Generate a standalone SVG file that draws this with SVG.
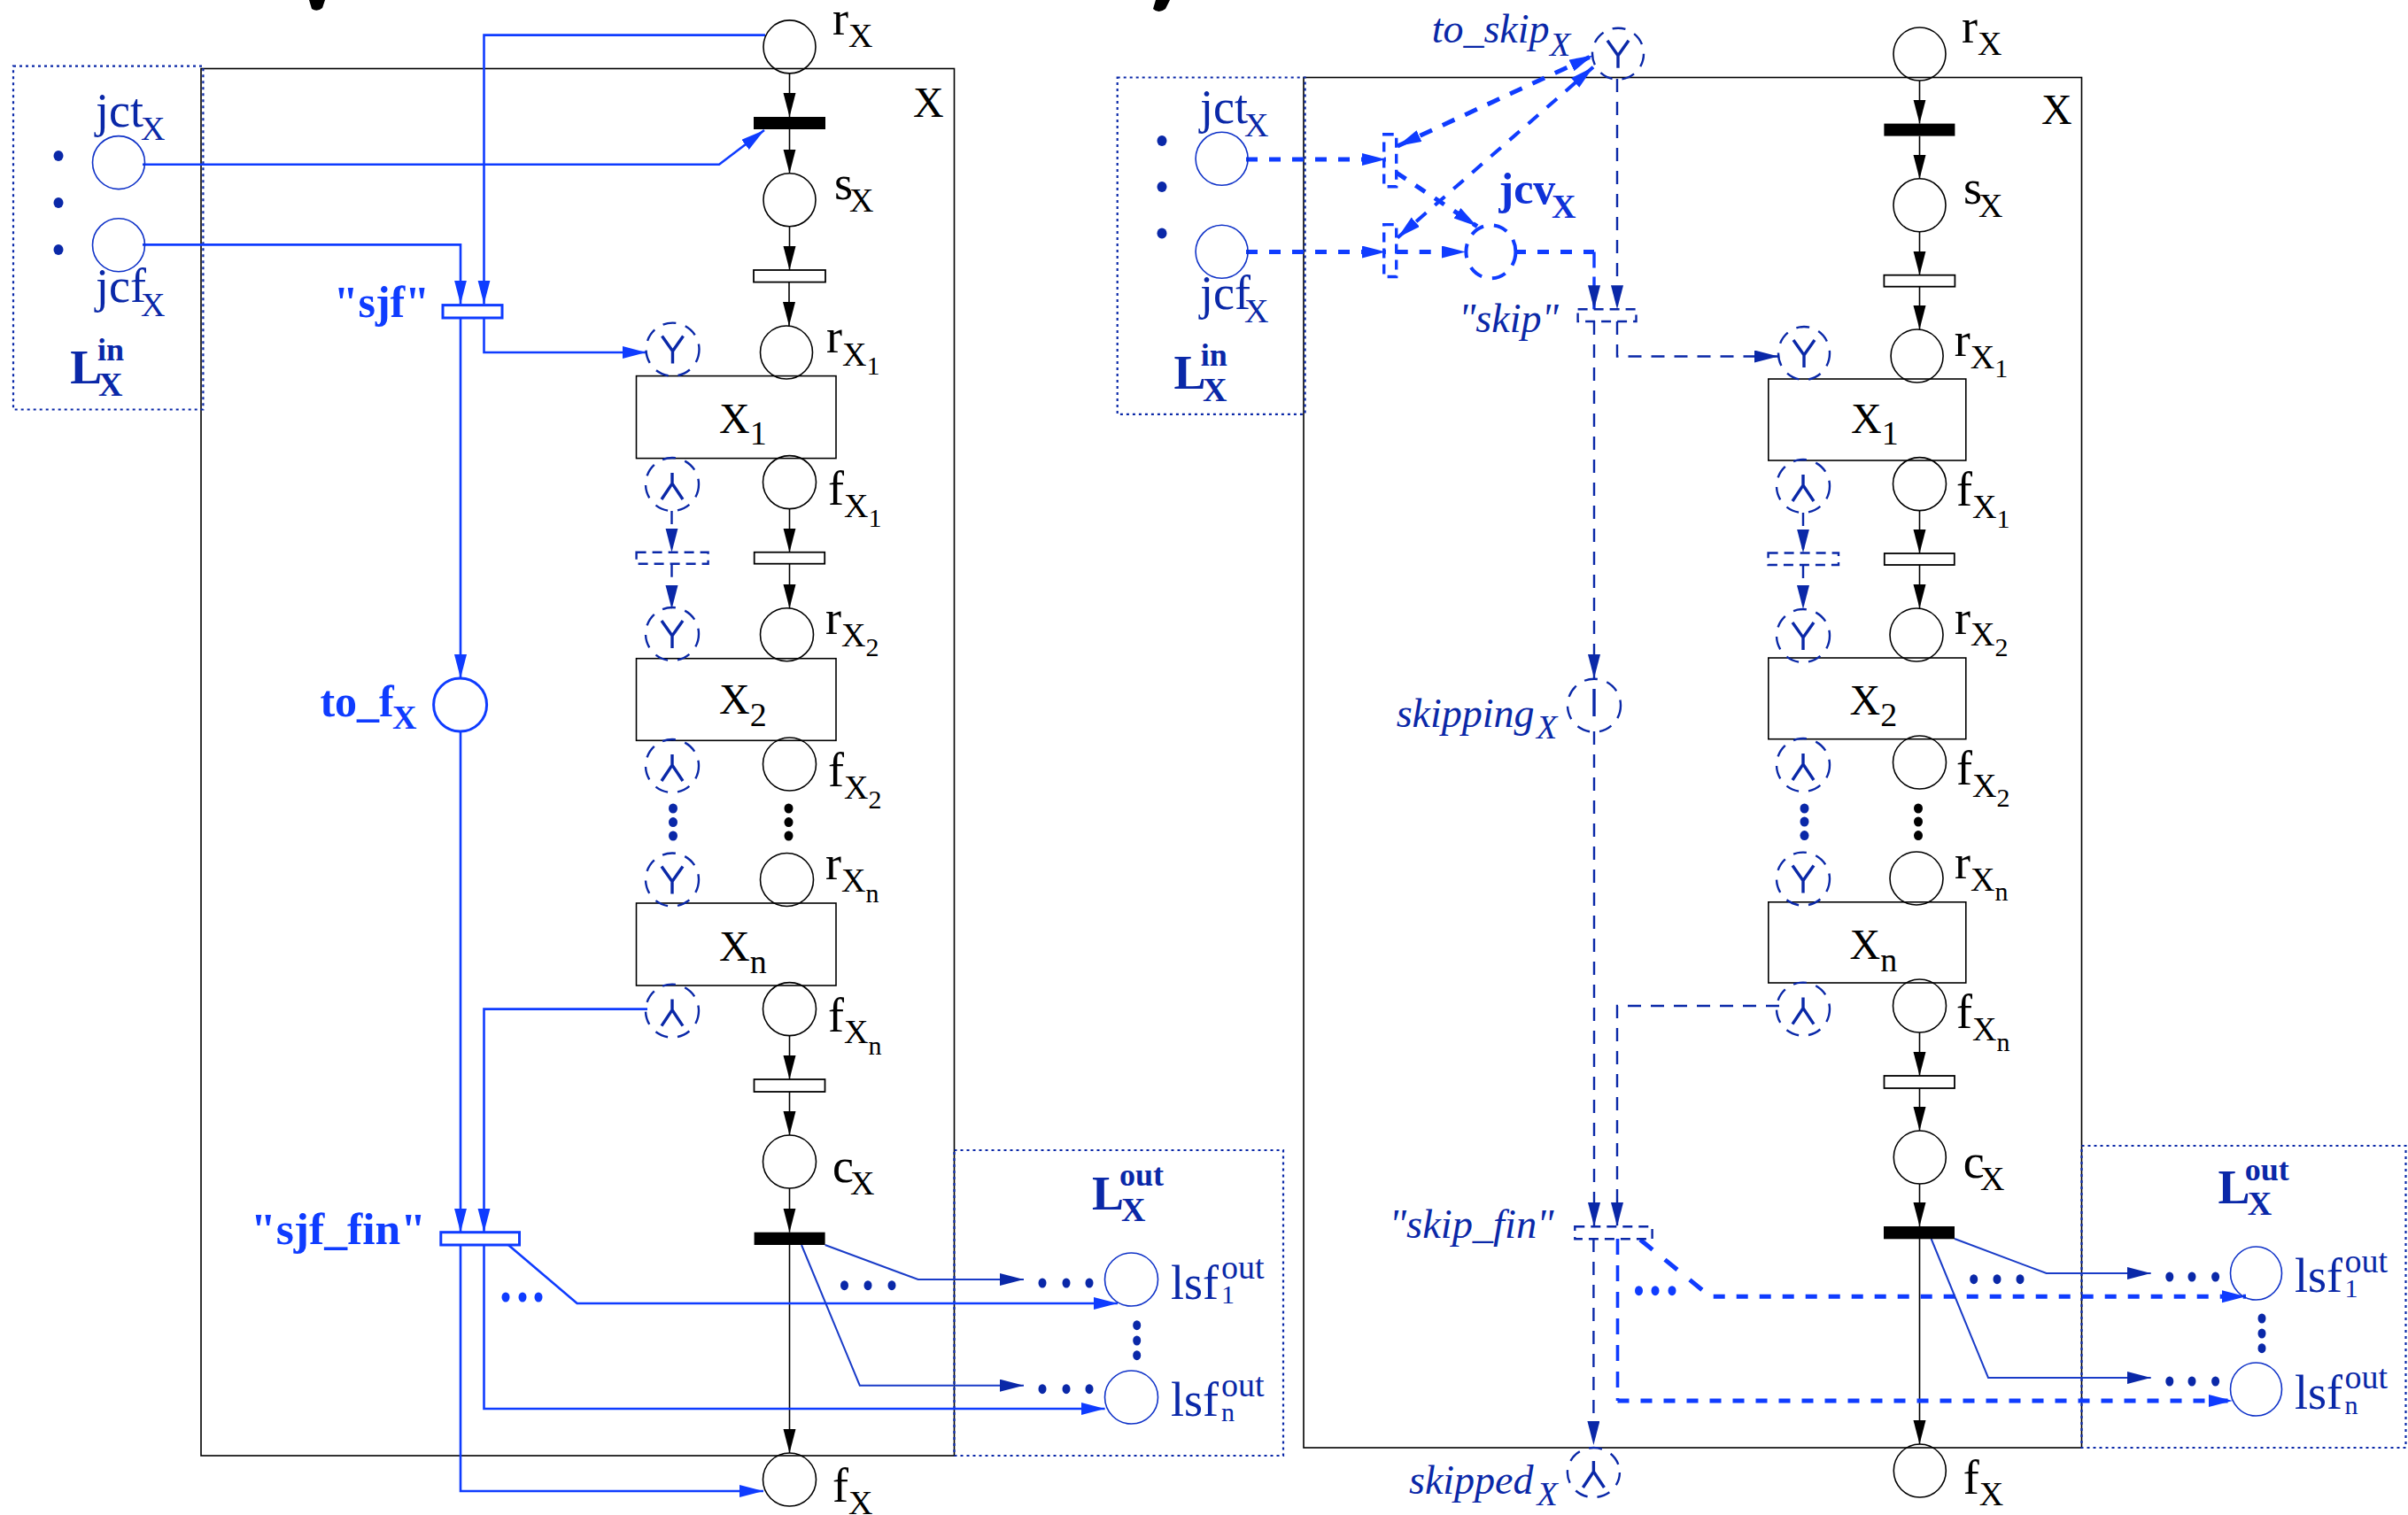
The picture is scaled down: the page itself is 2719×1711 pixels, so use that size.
<svg xmlns="http://www.w3.org/2000/svg" width="2719" height="1711" viewBox="0 0 2719 1711">
<style>
text{font-family:"Liberation Serif","Times New Roman",serif}
.m{font-size:54px;fill:#000}
.x{font-size:48px}
.s{font-size:38px}
.ss{font-size:30px}
.j{font-size:54px;fill:#0a28a8}
.b{font-size:50px;font-weight:bold;fill:#0f3cff}
.bd{font-size:54px;font-weight:bold;fill:#0a28a8}
.sb{font-size:38px;font-weight:bold}
.i{font-size:46px;font-style:italic;fill:#0a28a8}
.bl{fill:none;stroke:#000;stroke-width:1.6}
.pl{fill:none;stroke:#0f32c8;stroke-width:1.6}
.dp{fill:none;stroke:#0a28a8;stroke-width:2.4;stroke-dasharray:15 11}
.wb{fill:#fff;stroke:#000;stroke-width:1.8}
.bb{fill:#000;stroke:none}
.lb{fill:#fff;stroke:#0f3cff;stroke-width:3}
.dt{fill:none;stroke:#0a28a8;stroke-width:2.4;stroke-dasharray:11 7}
.dt2{fill:none;stroke:#0f3cff;stroke-width:3.4;stroke-dasharray:11 7}
.box{fill:none;stroke:#000;stroke-width:1.6}
.lo{fill:none;stroke:#0a28a8;stroke-width:2.2;stroke-dasharray:3 4}
.k{fill:none;stroke:#000;stroke-width:1.6;marker-end:url(#ak)}
.l{fill:none;stroke:#0f3cff;stroke-width:2.6;marker-end:url(#ab)}
.lt{fill:none;stroke:#1a3cc8;stroke-width:2;marker-end:url(#ad)}
.d{fill:none;stroke:#0a28a8;stroke-width:2.4;stroke-dasharray:15 11;marker-end:url(#ad)}
.th{fill:none;stroke:#0f3cff;stroke-width:5;stroke-dasharray:13 13;marker-end:url(#ab)}
.md{fill:none;stroke:#0f3cff;stroke-width:3.6;stroke-dasharray:18 12}
.sym{fill:none;stroke:#0a28a8;stroke-width:3.4}
.do{fill:#0a28a8}
.db{fill:#0f3cff}
</style>
<defs>
<marker id="ak" markerUnits="userSpaceOnUse" markerWidth="28" markerHeight="16" refX="27" refY="7" orient="auto-start-reverse"><path d="M0 0L27 7L0 14Z" fill="#000"/></marker>
<marker id="ab" markerUnits="userSpaceOnUse" markerWidth="28" markerHeight="16" refX="27" refY="7" orient="auto-start-reverse"><path d="M0 0L27 7L0 14Z" fill="#0f3cff"/></marker>
<marker id="ad" markerUnits="userSpaceOnUse" markerWidth="28" markerHeight="16" refX="27" refY="7" orient="auto-start-reverse"><path d="M0 0L27 7L0 14Z" fill="#0a28a8"/></marker>
<path id="yy" class="sym" d="M-12 -15L0 2L12 -15M0 2V16"/>
<path id="ll" class="sym" d="M0 -13V-1M-12 17L0 -1L12 17"/>
</defs>

<path d="M349 0H367L364 9Q358 14 352 10Z" fill="#000"/>
<path d="M1305 0H1321L1316 10Q1308 16 1302 10Z" fill="#000"/>

<g id="left-frames">
<rect class="box" x="227" y="77.5" width="850.5" height="1566.5"/>
<rect class="lo" x="15" y="74.6" width="214.4" height="387.9"/>
<rect class="lo" x="1077.5" y="1299" width="371.5" height="345"/>
</g>
<g id="right-frames">
<rect class="box" x="1472" y="87.5" width="878.5" height="1547.5"/>
<rect class="lo" x="1261.7" y="87.5" width="211.9" height="380.4"/>
<rect class="lo" x="2350.5" y="1294" width="366" height="341"/>
</g>

<g id="connectors">
<path class="k" d="M891.5 83V132"/>
<path class="k" d="M891.5 146V195.7"/>
<path class="k" d="M891.5 255.7V305"/>
<path class="k" d="M891 318.6V368"/>
<path class="k" d="M891.5 574V623.7"/>
<path class="k" d="M891.5 636.7V687"/>
<path class="k" d="M891.5 1169.6V1219"/>
<path class="k" d="M891.5 1233V1282"/>
<path class="k" d="M891.5 1342V1391.7"/>
<path class="k" d="M891.5 1406V1641"/>
<path class="k" d="M2167.5 91V139.6"/>
<path class="k" d="M2167.5 153.6V202"/>
<path class="k" d="M2167.5 262V310.7"/>
<path class="k" d="M2167.5 323.6V372"/>
<path class="k" d="M2167.5 576V625"/>
<path class="k" d="M2167.5 638V687"/>
<path class="k" d="M2167.5 1166V1215"/>
<path class="k" d="M2167.5 1229V1277"/>
<path class="k" d="M2167.5 1337V1385"/>
<path class="k" d="M2167.5 1399V1631"/>

<path class="l" d="M161 185.7H812L863 147"/>
<path class="l" d="M161 276.4H520V343.5"/>
<path class="l" d="M864 39.6H546.5V343.5"/>
<path class="l" d="M546.5 359V398H729.6"/>
<path class="l" d="M520 359V766"/>
<path class="l" d="M520 826V1391.7"/>
<path class="l" d="M731 1139.6H546.5V1391.7"/>
<path class="l" d="M546.5 1406V1591H1247.6"/>
<path class="l" d="M574 1406L651.6 1472H1262"/>
<path class="l" d="M520 1406V1684H862"/>
<path class="lt" d="M931.6 1406L1036.7 1445H1156"/>
<path class="lt" d="M905 1406L970.8 1564.7H1156"/>
<path class="d" d="M758.5 577V623.7"/>
<path class="d" d="M758.5 636.7V688"/>

<path class="th" d="M1407 180H1564.8"/>
<path class="th" d="M1407 284.5H1564.8"/>
<path class="th" d="M1576.7 284.5H1655"/>
<path class="th" d="M1576.7 195L1668 255.7"/>
<path d="M1578 165L1799 62.5" fill="none" stroke="#0f3cff" stroke-width="5" stroke-dasharray="15 13" marker-start="url(#ab)" marker-end="url(#ab)"/>
<path d="M1578 268.6L1799 75.7" fill="none" stroke="#0f3cff" stroke-width="4" stroke-dasharray="15 13" marker-start="url(#ab)" marker-end="url(#ab)"/>
<path d="M1710 284.5H1800" fill="none" stroke="#0f3cff" stroke-width="5" stroke-dasharray="13 13"/>
<path d="M1800 284.5V349.3" fill="none" stroke="#0f3cff" stroke-width="3.4" stroke-dasharray="18 10" marker-end="url(#ad)"/>
<path class="d" d="M1826 89V349.3"/>
<path class="d" d="M1826 363V402.5H2008"/>
<path class="d" d="M1800 363V766"/>
<path class="d" d="M1800 826V1385"/>
<path class="d" d="M2009 1136H1826V1385"/>
<path class="d" d="M2036 579V624.5"/>
<path class="d" d="M2036 638V688"/>
<path class="d" d="M1799.4 1399V1632"/>
<path class="md" d="M1826.5 1399V1582"/>
<path class="th" d="M1826.5 1582H2521"/>
<path d="M1852 1400L1923.5 1458" fill="none" stroke="#0f3cff" stroke-width="5" stroke-dasharray="18 18"/>
<path class="th" d="M1934.7 1464.3H2536"/>
<path class="lt" d="M2207 1399L2310.7 1438H2428.7"/>
<path class="lt" d="M2180.6 1399L2245 1556H2428.7"/>
</g>

<g id="rX"><ellipse class="bl" cx="891.5" cy="52.9" rx="29.5" ry="30"/><text class="m" x="940" y="38.6">r<tspan class="s" y="53">X</tspan></text></g>
<g id="tX-black"><rect class="bb" x="851" y="132" width="81" height="14"/></g>
<g id="labelX"><text class="m x" x="1031" y="132">X</text></g>
<g id="sX"><ellipse class="bl" cx="891.5" cy="225.7" rx="29.5" ry="30"/><text class="m" x="942" y="225">s<tspan class="s" x="959" y="238.6">X</tspan></text></g>
<g id="tX-1"><rect class="wb" x="851" y="305" width="81" height="13.6"/></g>
<g id="rX1"><ellipse class="bl" cx="888" cy="398" rx="29.5" ry="30"/><text class="m" x="933" y="397.5">r<tspan class="s" y="412.5">X</tspan><tspan class="ss" y="423">1</tspan></text></g>
<g id="X1"><rect class="box" x="718.5" y="424.6" width="225.5" height="93"/><text class="m x" x="812" y="488.6">X<tspan class="s" y="501.8">1</tspan></text></g>
<g id="fX1"><ellipse class="bl" cx="891.5" cy="544.6" rx="30" ry="30"/><text class="m" x="935" y="569.6">f<tspan class="s" y="584">X</tspan><tspan class="ss" y="595">1</tspan></text></g>
<g id="tX-2"><rect class="wb" x="851.7" y="623.7" width="79.5" height="13"/></g>
<g id="rX2"><ellipse class="bl" cx="888.5" cy="716.7" rx="30" ry="30"/><text class="m" x="932" y="716">r<tspan class="s" y="730">X</tspan><tspan class="ss" y="741">2</tspan></text></g>
<g id="X2"><rect class="box" x="718.5" y="743.7" width="225.5" height="92.6"/><text class="m x" x="812" y="806">X<tspan class="s" y="820">2</tspan></text></g>
<g id="fX2"><ellipse class="bl" cx="891.5" cy="863" rx="30" ry="30"/><text class="m" x="935" y="887.8">f<tspan class="s" y="902">X</tspan><tspan class="ss" y="913">2</tspan></text></g>
<g id="rXn"><ellipse class="bl" cx="888.5" cy="993.5" rx="30" ry="30"/><text class="m" x="932" y="992.6">r<tspan class="s" y="1007">X</tspan><tspan class="ss" y="1018.8">n</tspan></text></g>
<g id="Xn"><rect class="box" x="718.5" y="1020" width="225.5" height="93"/><text class="m x" x="812" y="1084.5">X<tspan class="s" y="1099">n</tspan></text></g>
<g id="fXn"><ellipse class="bl" cx="891.5" cy="1139.6" rx="30" ry="30"/><text class="m" x="935" y="1165">f<tspan class="s" y="1178">X</tspan><tspan class="ss" y="1190.6">n</tspan></text></g>
<g id="tX-3"><rect class="wb" x="851.5" y="1219" width="80" height="14"/></g>
<g id="cX"><ellipse class="bl" cx="891.5" cy="1312" rx="30" ry="30"/><text class="m" x="940" y="1335">c<tspan class="s" x="960" y="1349">X</tspan></text></g>
<g id="tX-fin"><rect class="bb" x="851.6" y="1391.7" width="80" height="14.3"/></g>
<g id="fX"><ellipse class="bl" cx="891.5" cy="1671" rx="30" ry="30"/><text class="m" x="940" y="1695.7">f<tspan class="s" y="1710">X</tspan></text></g>
<g id="dots-black-l"><ellipse class="bb" cx="890.5" cy="913" rx="5" ry="5.5"/><ellipse class="bb" cx="890.5" cy="928.6" rx="5" ry="5.5"/><ellipse class="bb" cx="890.5" cy="944" rx="5" ry="5.5"/></g>

<g id="Y1l"><ellipse class="dp" cx="759.5" cy="394.6" rx="30" ry="30"/><use href="#yy" x="759.5" y="394.6"/></g>
<g id="L1l"><ellipse class="dp" cx="759" cy="547" rx="30" ry="30"/><use href="#ll" x="759" y="547"/></g>
<g id="td-l"><rect class="dt" x="718.6" y="623.7" width="81" height="13"/></g>
<g id="Y2l"><ellipse class="dp" cx="759" cy="716" rx="30" ry="30"/><use href="#yy" x="759" y="716"/></g>
<g id="L2l"><ellipse class="dp" cx="759" cy="865" rx="30" ry="30"/><use href="#ll" x="759" y="865"/></g>
<g id="Ynl"><ellipse class="dp" cx="759" cy="993.5" rx="30" ry="30"/><use href="#yy" x="759" y="993.5"/></g>
<g id="Lnl"><ellipse class="dp" cx="759" cy="1141.6" rx="30" ry="30"/><use href="#ll" x="759" y="1141.6"/></g>
<g id="dots-blue-l"><ellipse class="do" cx="760" cy="913" rx="5" ry="5.5"/><ellipse class="do" cx="760" cy="928.6" rx="5" ry="5.5"/><ellipse class="do" cx="760" cy="944" rx="5" ry="5.5"/></g>

<g id="jct-l"><ellipse class="pl" cx="134" cy="183.6" rx="29.5" ry="30"/><text class="j" x="108" y="143">jct<tspan class="s" x="159" y="158">X</tspan></text></g>
<g id="jcf-l"><ellipse class="pl" cx="134" cy="276.8" rx="29.5" ry="30"/><text class="j" x="108" y="341">jcf<tspan class="s" x="159" y="357">X</tspan></text></g>
<g id="dots-lin-l"><ellipse class="do" cx="66" cy="176" rx="5.5" ry="6"/><ellipse class="do" cx="66" cy="229" rx="5.5" ry="6"/><ellipse class="do" cx="66" cy="282" rx="5.5" ry="6"/></g>
<g id="Lin-l"><text class="bd" x="79.3" y="433">L</text><text class="bd" x="110" y="407" style="font-size:36px">in</text><text class="bd" x="111" y="447" style="font-size:38px">X</text></g>

<g id="sjf"><rect class="lb" x="500" y="344.6" width="67" height="14.4"/><text class="b" x="376.7" y="358">"sjf"</text></g>
<g id="to_f"><ellipse class="lb" style="fill:none" cx="519.6" cy="796" rx="30" ry="30"/><text class="b" x="361.4" y="809">to_f<tspan class="sb" x="443" y="823">X</tspan></text></g>
<g id="sjf_fin"><rect class="lb" x="497.8" y="1391.7" width="88.7" height="14.3"/><text class="b" x="283" y="1405" textLength="198" lengthAdjust="spacingAndGlyphs">"sjf_fin"</text></g>
<g id="dots-l1"><ellipse class="db" cx="571" cy="1465" rx="4.5" ry="5.5"/><ellipse class="db" cx="590" cy="1465" rx="4.5" ry="5.5"/><ellipse class="db" cx="608" cy="1465" rx="4.5" ry="5.5"/></g>
<g id="dots-l2"><ellipse class="do" cx="953.5" cy="1451.7" rx="4.5" ry="5.5"/><ellipse class="do" cx="980" cy="1451.7" rx="4.5" ry="5.5"/><ellipse class="do" cx="1007" cy="1451.7" rx="4.5" ry="5.5"/><ellipse class="do" cx="1177" cy="1449" rx="4.5" ry="5.5"/><ellipse class="do" cx="1204" cy="1449" rx="4.5" ry="5.5"/><ellipse class="do" cx="1230" cy="1449" rx="4.5" ry="5.5"/><ellipse class="do" cx="1177" cy="1568.7" rx="4.5" ry="5.5"/><ellipse class="do" cx="1204" cy="1568.7" rx="4.5" ry="5.5"/><ellipse class="do" cx="1230" cy="1568.7" rx="4.5" ry="5.5"/><ellipse class="do" cx="1283.7" cy="1496.7" rx="4.5" ry="5.5"/><ellipse class="do" cx="1283.7" cy="1514" rx="4.5" ry="5.5"/><ellipse class="do" cx="1283.7" cy="1530.7" rx="4.5" ry="5.5"/></g>
<g id="lsf1-l"><ellipse class="pl" cx="1277.5" cy="1445" rx="30" ry="30"/><text class="j" x="1322" y="1466.7">lsf<tspan class="s" x="1379" y="1444">out</tspan><tspan class="ss" x="1379" y="1472">1</tspan></text></g>
<g id="lsfn-l"><ellipse class="pl" cx="1277.5" cy="1578" rx="30" ry="30"/><text class="j" x="1322" y="1599">lsf<tspan class="s" x="1379" y="1576.7">out</tspan><tspan class="ss" x="1379" y="1605">n</tspan></text></g>
<g id="Lout-l"><text class="bd" x="1233" y="1365.7">L</text><text class="bd" x="1264" y="1339" style="font-size:36px">out</text><text class="bd" x="1266" y="1379" style="font-size:38px">X</text></g>

<g id="rXr"><ellipse class="bl" cx="2167.5" cy="61" rx="29.5" ry="30"/><text class="m" x="2215" y="47.5">r<tspan class="s" y="62">X</tspan></text></g>
<g id="tXr-black"><rect class="bb" x="2127.4" y="139.6" width="80" height="14"/></g>
<g id="labelXr"><text class="m x" x="2305" y="140">X</text></g>
<g id="sXr"><ellipse class="bl" cx="2167.5" cy="231.8" rx="29.5" ry="30"/><text class="m" x="2217" y="230">s<tspan class="s" x="2234" y="244.6">X</tspan></text></g>
<g id="tXr-1"><rect class="wb" x="2127.4" y="310.7" width="80" height="13"/></g>
<g id="rX1r"><ellipse class="bl" cx="2164.6" cy="402" rx="29.5" ry="30"/><text class="m" x="2206.7" y="401.8">r<tspan class="s" y="416">X</tspan><tspan class="ss" y="426">1</tspan></text></g>
<g id="X1r"><rect class="box" x="1996.8" y="428" width="223" height="92"/><text class="m x" x="2090" y="488.6">X<tspan class="s" y="501.8">1</tspan></text></g>
<g id="fX1r"><ellipse class="bl" cx="2167.5" cy="546.6" rx="30" ry="30"/><text class="m" x="2209" y="571">f<tspan class="s" y="585">X</tspan><tspan class="ss" y="596">1</tspan></text></g>
<g id="tXr-2"><rect class="wb" x="2127.8" y="625" width="79" height="13"/></g>
<g id="rX2r"><ellipse class="bl" cx="2164" cy="717" rx="30" ry="30"/><text class="m" x="2207" y="716">r<tspan class="s" y="729.4">X</tspan><tspan class="ss" y="741">2</tspan></text></g>
<g id="X2r"><rect class="box" x="1996.8" y="743" width="223" height="91.7"/><text class="m x" x="2088.5" y="807">X<tspan class="s" y="820">2</tspan></text></g>
<g id="fX2r"><ellipse class="bl" cx="2167.5" cy="861" rx="30" ry="30"/><text class="m" x="2209" y="885.7">f<tspan class="s" y="900">X</tspan><tspan class="ss" y="911">2</tspan></text></g>
<g id="rXnr"><ellipse class="bl" cx="2164" cy="992" rx="30" ry="30"/><text class="m" x="2207" y="992">r<tspan class="s" y="1005.7">X</tspan><tspan class="ss" y="1017">n</tspan></text></g>
<g id="Xnr"><rect class="box" x="1996.8" y="1018.8" width="223" height="91.2"/><text class="m x" x="2088.5" y="1083">X<tspan class="s" y="1096.7">n</tspan></text></g>
<g id="fXnr"><ellipse class="bl" cx="2167.5" cy="1136" rx="30" ry="30"/><text class="m" x="2209" y="1160.8">f<tspan class="s" y="1175">X</tspan><tspan class="ss" y="1186.5">n</tspan></text></g>
<g id="tXr-3"><rect class="wb" x="2127.5" y="1215" width="79.5" height="14"/></g>
<g id="cXr"><ellipse class="bl" cx="2167.8" cy="1307" rx="29.5" ry="30"/><text class="m" x="2216.7" y="1330">c<tspan class="s" x="2236" y="1344">X</tspan></text></g>
<g id="tXr-fin"><rect class="bb" x="2127" y="1385" width="80" height="14.3"/></g>
<g id="fXr"><ellipse class="bl" cx="2167.8" cy="1661" rx="29.5" ry="30"/><text class="m" x="2216.7" y="1686.7">f<tspan class="s" y="1700">X</tspan></text></g>
<g id="dots-black-r"><ellipse class="bb" cx="2166" cy="913" rx="5" ry="5.5"/><ellipse class="bb" cx="2166" cy="928" rx="5" ry="5.5"/><ellipse class="bb" cx="2166" cy="943.6" rx="5" ry="5.5"/></g>

<g id="Y1r"><ellipse class="dp" cx="2037" cy="399" rx="29" ry="30"/><use href="#yy" x="2037" y="399"/></g>
<g id="L1r"><ellipse class="dp" cx="2036" cy="549" rx="30" ry="30"/><use href="#ll" x="2036" y="549"/></g>
<g id="td-r"><rect class="dt" x="1996.6" y="624.5" width="79.4" height="13.5"/></g>
<g id="Y2r"><ellipse class="dp" cx="2036" cy="718" rx="30" ry="30"/><use href="#yy" x="2036" y="718"/></g>
<g id="L2r"><ellipse class="dp" cx="2036" cy="864" rx="30" ry="30"/><use href="#ll" x="2036" y="864"/></g>
<g id="Ynr"><ellipse class="dp" cx="2036" cy="992.6" rx="30" ry="30"/><use href="#yy" x="2036" y="992.6"/></g>
<g id="Lnr"><ellipse class="dp" cx="2036" cy="1139.6" rx="30" ry="30"/><use href="#ll" x="2036" y="1139.6"/></g>
<g id="dots-blue-r"><ellipse class="do" cx="2037.5" cy="913" rx="5" ry="5.5"/><ellipse class="do" cx="2037.5" cy="928" rx="5" ry="5.5"/><ellipse class="do" cx="2037.5" cy="943.6" rx="5" ry="5.5"/></g>

<g id="jct-r"><ellipse class="pl" cx="1379.6" cy="179.3" rx="29.5" ry="30"/><text class="j" x="1355" y="138.6">jct<tspan class="s" x="1405" y="154.3">X</tspan></text></g>
<g id="jcf-r"><ellipse class="pl" cx="1379.6" cy="284.3" rx="29.5" ry="30"/><text class="j" x="1355" y="349">jcf<tspan class="s" x="1405" y="363.6">X</tspan></text></g>
<g id="dots-lin-r"><ellipse class="do" cx="1312" cy="159" rx="5.5" ry="6"/><ellipse class="do" cx="1312" cy="211" rx="5.5" ry="6"/><ellipse class="do" cx="1312" cy="263.6" rx="5.5" ry="6"/></g>
<g id="Lin-r"><text class="bd" x="1325.6" y="438.6">L</text><text class="bd" x="1355.7" y="412.5" style="font-size:36px">in</text><text class="bd" x="1358" y="452.5" style="font-size:38px">X</text></g>

<g id="to_skip"><ellipse class="dp" cx="1827" cy="60.7" rx="29" ry="29"/><use href="#yy" x="1827" y="60.7"/><text class="i" x="1616.7" y="47.5">to_skip<tspan class="s" x="1750" y="62.5">X</tspan></text></g>
<g id="t-jct"><rect class="dt2" x="1562.7" y="151.8" width="14" height="58.9"/></g>
<g id="t-jcf"><rect class="dt2" x="1562.7" y="253.6" width="14" height="58.9"/></g>
<g id="jcv"><ellipse fill="none" stroke="#0f3cff" stroke-width="4" stroke-dasharray="16 12" cx="1683.4" cy="284.3" rx="28" ry="30"/><text class="b" x="1692.5" y="230" style="fill:#0f32d8">jcv<tspan class="sb" x="1752" y="245.7">X</tspan></text></g>
<g id="skip"><rect class="dt" x="1781.6" y="349.3" width="65.9" height="13.7"/><text class="i" x="1647" y="375">"skip"</text></g>
<g id="skipping"><ellipse class="dp" cx="1800" cy="796.7" rx="30" ry="30"/><path class="sym" d="M1800 778V809"/><text class="i" x="1576.7" y="821">skipping<tspan class="s" x="1735" y="834">X</tspan></text></g>
<g id="skip_fin"><rect class="dt" x="1778.3" y="1385.3" width="87.3" height="14"/><text class="i" x="1568.6" y="1398" textLength="186" lengthAdjust="spacingAndGlyphs">"skip_fin"</text></g>
<g id="skipped"><ellipse class="dp" cx="1799.4" cy="1663" rx="29.5" ry="28"/><use href="#ll" x="1799.4" y="1663"/><text class="i" x="1591" y="1686.7">skipped<tspan class="s" x="1735.5" y="1700">X</tspan></text></g>
<g id="dots-r1"><ellipse class="db" cx="1850.5" cy="1457.7" rx="4.5" ry="5.5"/><ellipse class="db" cx="1869" cy="1457.7" rx="4.5" ry="5.5"/><ellipse class="db" cx="1888" cy="1457.7" rx="4.5" ry="5.5"/></g>
<g id="dots-r2"><ellipse class="do" cx="2228.7" cy="1444.7" rx="4.5" ry="5.5"/><ellipse class="do" cx="2255" cy="1444.7" rx="4.5" ry="5.5"/><ellipse class="do" cx="2281" cy="1444.7" rx="4.5" ry="5.5"/><ellipse class="do" cx="2449.8" cy="1442" rx="4.5" ry="5.5"/><ellipse class="do" cx="2475" cy="1442" rx="4.5" ry="5.5"/><ellipse class="do" cx="2501.6" cy="1442" rx="4.5" ry="5.5"/><ellipse class="do" cx="2449.8" cy="1560" rx="4.5" ry="5.5"/><ellipse class="do" cx="2475" cy="1560" rx="4.5" ry="5.5"/><ellipse class="do" cx="2501.6" cy="1560" rx="4.5" ry="5.5"/><ellipse class="do" cx="2554" cy="1489" rx="4.5" ry="5.5"/><ellipse class="do" cx="2554" cy="1506" rx="4.5" ry="5.5"/><ellipse class="do" cx="2554" cy="1522.7" rx="4.5" ry="5.5"/></g>
<g id="lsf1-r"><ellipse class="pl" cx="2547.5" cy="1438" rx="29" ry="30"/><text class="j" x="2591" y="1459">lsf<tspan class="s" x="2647.5" y="1436.7">out</tspan><tspan class="ss" x="2647.5" y="1465">1</tspan></text></g>
<g id="lsfn-r"><ellipse class="pl" cx="2547.5" cy="1569" rx="29" ry="30"/><text class="j" x="2591" y="1590.7">lsf<tspan class="s" x="2647.5" y="1567.7">out</tspan><tspan class="ss" x="2647.5" y="1596.7">n</tspan></text></g>
<g id="Lout-r"><text class="bd" x="2504.6" y="1359">L</text><text class="bd" x="2534.7" y="1332.7" style="font-size:36px">out</text><text class="bd" x="2537.7" y="1372.3" style="font-size:38px">X</text></g>
</svg>
